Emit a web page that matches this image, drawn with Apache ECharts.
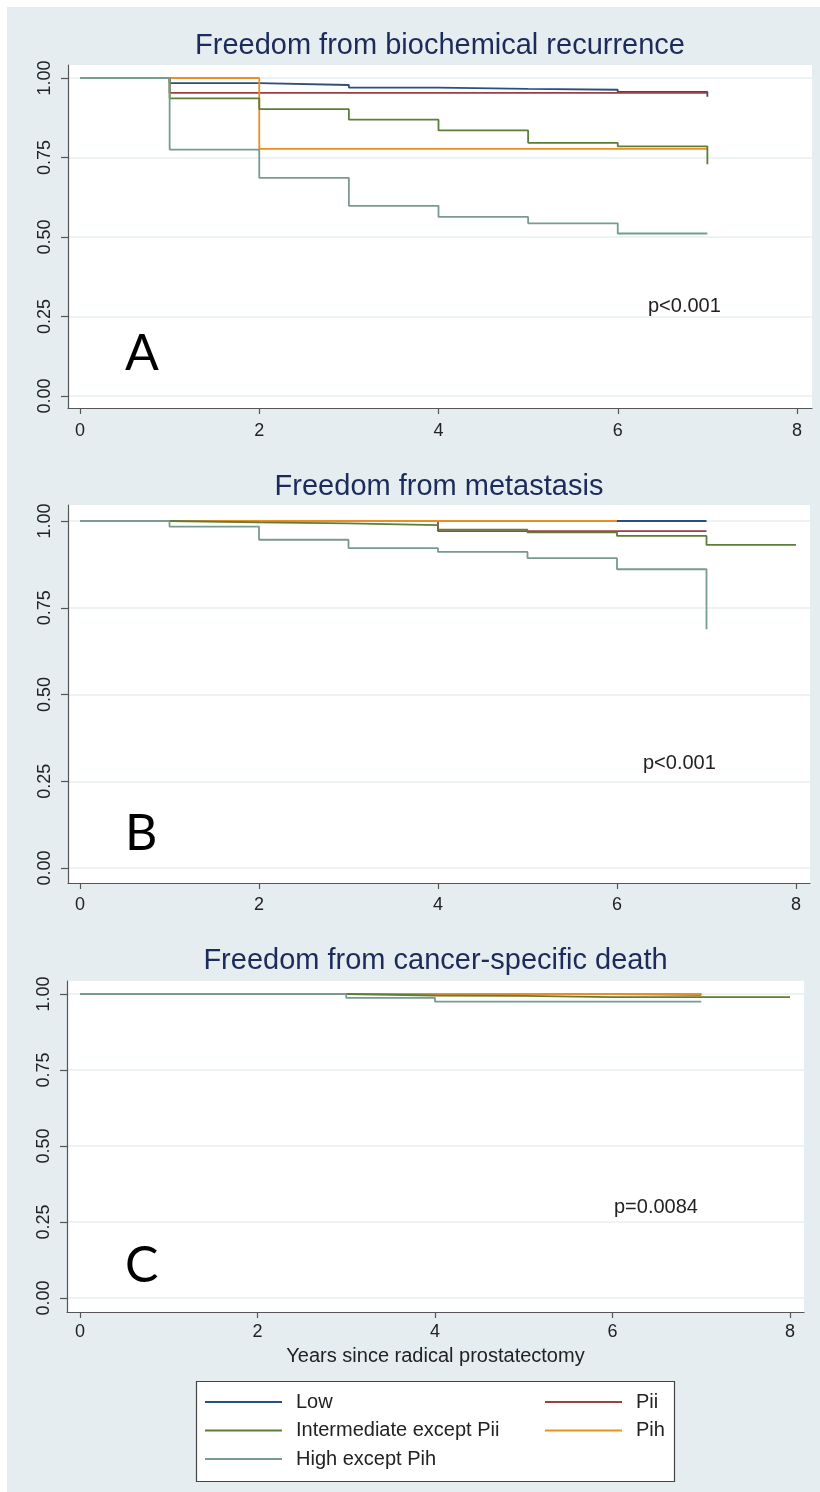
<!DOCTYPE html>
<html><head><meta charset="utf-8">
<script src="https://cdn.jsdelivr.net/npm/echarts@6/dist/echarts.min.js"></script>
<style>
html,body{margin:0;padding:0;background:#fff;}
#bg{position:absolute;left:7px;top:7px;width:813px;height:1485px;background:#e6edf1;}
#chart{position:absolute;left:0;top:0;width:820px;height:1492px;}
</style></head>
<body><div id="bg"></div><div id="chart"></div>
<script>
// ---------- data (survival probability at each year index 0,1,2,...) ----------
const groups = ['Low', 'Pii', 'Pih', 'Intermediate except Pii', 'High except Pih'];
const xTicks = [0, 2, 4, 6, 8];
const yTicks = [0, 0.25, 0.5, 0.75, 1];

// A: Freedom from biochemical recurrence
const bcrLow  = [1, 0.984, 0.978, 0.970, 0.966, 0.963, 0.956, 0.941];
const bcrPii  = [1, 0.953, 0.953, 0.953, 0.953, 0.953, 0.953, 0.953];
const bcrPih  = [1, 1, 0.777, 0.777, 0.777, 0.777, 0.777, 0.777];
const bcrInt  = [1, 0.936, 0.902, 0.869, 0.835, 0.796, 0.785, 0.729];
const bcrHigh = [1, 0.775, 0.686, 0.598, 0.563, 0.543, 0.511, 0.511];

// B: Freedom from metastasis
const metLow  = [1, 1, 1, 1, 1, 1, 1, 1];
const metPii  = [1, 1, 1, 1, 0.971, 0.971, 0.971, 0.971];
const metPih  = [1, 1, 1, 1, 1, 1, 1];
const metInt  = [1, 0.996, 0.993, 0.988, 0.975, 0.967, 0.957, 0.931, 0.931];
const metHigh = [1, 0.984, 0.946, 0.922, 0.911, 0.893, 0.861, 0.688];

// C: Freedom from cancer-specific death
const csdLow  = [1, 1, 1, 1, 1, 1, 1, 1];
const csdPii  = [1, 1, 1, 1, 1, 1, 0.997, 0.997];
const csdPih  = [1, 1, 1, 1, 1, 1, 1, 1];
const csdInt  = [1, 1, 1, 0.995, 0.994, 0.990, 0.990, 0.990, 0.990];
const csdHigh = [1, 1, 1, 0.987, 0.975, 0.975, 0.975, 0.975];

const titles = ['Freedom from biochemical recurrence', 'Freedom from metastasis', 'Freedom from cancer-specific death'];
const pValues = ['p<0.001', 'p<0.001', 'p=0.0084'];
const letters = ['A', 'B', 'C'];
const xAxisTitle = 'Years since radical prostatectomy';

// ---------- styling / layout ----------
const colors = {
  'Low': '#2a5080',
  'Pii': '#9c3f46',
  'Pih': '#ee8d22',
  'Intermediate except Pii': '#5c7e36',
  'High except Pih': '#789b8f'
};
const panelData = [
  {'Low': bcrLow, 'Pii': bcrPii, 'Pih': bcrPih, 'Intermediate except Pii': bcrInt, 'High except Pih': bcrHigh},
  {'Low': metLow, 'Pii': metPii, 'Pih': metPih, 'Intermediate except Pii': metInt, 'High except Pih': metHigh},
  {'Low': csdLow, 'Pii': csdPii, 'Pih': csdPih, 'Intermediate except Pii': csdInt, 'High except Pih': csdHigh}
];
// plot region and where x=0/x=8, y=1/y=0 fall (pixels)
const layout = [
  {pl: 68, pr: 812, pt: 65,  pb: 408,  x0: 80, x8: 797, y1: 78,  y0: 396,  titleY: 46, letterY: 354, pX: 648, pY: 306, labMargin: 14},
  {pl: 68, pr: 810, pt: 505, pb: 883,  x0: 80, x8: 796, y1: 521, y0: 868,  titleY: 486.5,  letterY: 834, pX: 643, pY: 763.5, labMargin: 13},
  {pl: 67, pr: 804, pt: 981, pb: 1312, x0: 80, x8: 790, y1: 994, y0: 1298, titleY: 961, letterY: 1266, pX: 614, pY: 1207.5, labMargin: 11}
];
const FONT = '"Liberation Sans", Arial, Helvetica, sans-serif';
const axisColor = '#555';

const grids = [], xAxes = [], yAxes = [], series = [], graphics = [];
layout.forEach((L, i) => {
  const pxX = (L.x8 - L.x0) / 8, pxY = (L.y0 - L.y1);
  grids.push({left: L.pl, top: L.pt, width: L.pr - L.pl, height: L.pb - L.pt,
    show: true, backgroundColor: '#ffffff', borderWidth: 0, outerBoundsMode: 'none', containLabel: false});
  xAxes.push({
    type: 'value', gridIndex: i,
    min: -(L.x0 - L.pl) / pxX, max: 8 + (L.pr - L.x8) / pxX,
    axisLine: {show: true, onZero: false, lineStyle: {color: axisColor, width: 1.2}},
    axisTick: {show: true, length: 6, lineStyle: {color: axisColor, width: 1.2}, customValues: xTicks},
    axisLabel: {customValues: xTicks, margin: L.labMargin, fontSize: 18, color: '#222', fontFamily: FONT,
      formatter: v => String(Math.round(v))},
    splitLine: {show: false},
    name: i === 2 ? xAxisTitle : '', nameLocation: 'middle', nameGap: 34,
    nameTextStyle: {fontSize: 20, color: '#222', fontFamily: FONT}
  });
  yAxes.push({
    type: 'value', gridIndex: i,
    min: -(L.pb - L.y0) / pxY, max: 1 + (L.y1 - L.pt) / pxY,
    axisLine: {show: true, onZero: false, lineStyle: {color: axisColor, width: 1.2}},
    axisTick: {show: true, length: 7, lineStyle: {color: axisColor, width: 1.2}, customValues: yTicks},
    axisLabel: {customValues: yTicks, rotate: 90, margin: 14, fontSize: 18, color: '#222', fontFamily: FONT,
      formatter: v => v.toFixed(2)},
    splitLine: {show: true, lineStyle: {color: '#e7eff2', width: 1.6}}
  });
  groups.forEach(g => {
    const vals = panelData[i][g];
    series.push({
      name: g, type: 'line', xAxisIndex: i, yAxisIndex: i, step: 'end',
      showSymbol: false, symbol: 'none', animation: false, silent: true,
      data: vals.map((v, t) => [t, v]),
      lineStyle: {color: colors[g], width: 1.8},
      itemStyle: {color: colors[g]}
    });
  });
  graphics.push({type: 'text', z: 10, x: (L.pl + L.pr) / 2, y: L.titleY,
    style: {text: titles[i], fill: '#1c2b5a', font: '29px ' + FONT, align: 'center', verticalAlign: 'middle'}});
  graphics.push({type: 'text', z: 10, x: 125, y: L.letterY,
    style: {text: letters[i], fill: '#000', font: '50px Lato, "Open Sans", sans-serif', align: 'left', verticalAlign: 'middle'}});
  graphics.push({type: 'text', z: 10, x: L.pX, y: L.pY,
    style: {text: pValues[i], fill: '#222', font: '20px ' + FONT, align: 'left', verticalAlign: 'middle'}});
});
// legend frame
graphics.push({type: 'rect', z: 1, shape: {x: 196.5, y: 1381.5, width: 478, height: 100},
  style: {fill: '#ffffff', stroke: '#444', lineWidth: 1.2}});

const legendCommon = {
  orient: 'vertical', padding: 0, itemWidth: 77, itemHeight: 2, itemGap: 8.5, icon: 'rect',
  selectedMode: false, z: 5,
  textStyle: {fontSize: 20, color: '#222', fontFamily: FONT, lineHeight: 20, padding: [0, 0, 0, 9]}
};

const chart = echarts.init(document.getElementById('chart'), null, {renderer: 'canvas'});
chart.setOption({
  backgroundColor: 'transparent',
  animation: false,
  grid: grids, xAxis: xAxes, yAxis: yAxes, series: series,
  legend: [
    Object.assign({}, legendCommon, {left: 205, top: 1392, data: ['Low', 'Intermediate except Pii', 'High except Pih']}),
    Object.assign({}, legendCommon, {left: 545, top: 1392, data: ['Pii', 'Pih']})
  ],
  graphic: {elements: graphics}
});
</script></body></html>
